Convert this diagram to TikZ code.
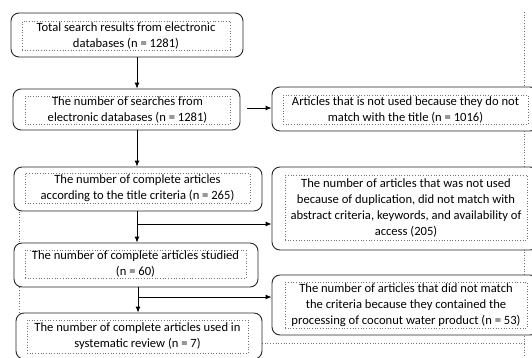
\documentclass[tikz,border=0pt]{standalone}
\usepackage{fontspec}
\setmainfont{Carlito}
\usetikzlibrary{arrows.meta}
\begin{document}
\begin{tikzpicture}[x=1pt,y=-1pt,
  outerbox/.style={draw=black!85, line width=0.9pt, rounded corners=8pt, fill=white, inner sep=0pt},
  innerbox/.style={draw=black!55, dotted, line width=0.7pt, inner sep=0pt, align=center,
     font=\fontsize{12.6}{16}\selectfont},
  frameline/.style={draw=black!55, dotted, line width=0.7pt},
  arr/.style={-{Latex[length=6pt,width=5pt]}, line width=0.9pt, draw=black}]
\useasboundingbox (0,0) rectangle (532,357);
\clip (0,0) rectangle (532,357);
% dotted frame lines
\coordinate (fl1) at (19,190);
\coordinate (fl2) at (19,360);
\coordinate (fr1) at (524,12);
\coordinate (fr2) at (524,360);
\coordinate (fb1) at (262,343);
\coordinate (fb2) at (524,343);
\draw[frameline] (fl1) -- (fl2);
\draw[frameline] (fr1) -- (fr2);
\draw[frameline] (fb1) -- (fb2);
% outer boxes
\node[outerbox, minimum width=232pt, minimum height=44pt] (b1) at (127,35) {};
\node[outerbox, minimum width=227pt, minimum height=41pt] (b2) at (126.5,109.5) {};
\node[outerbox, minimum width=248pt, minimum height=44pt] (b3) at (138,189) {};
\node[outerbox, minimum width=244pt, minimum height=44pt] (b4) at (136,265) {};
\node[outerbox, minimum width=246pt, minimum height=46pt] (b5) at (139,336) {};
\node[outerbox, minimum width=266pt, minimum height=44pt] (r1) at (405,109) {};
\node[outerbox, minimum width=266pt, minimum height=83pt] (r2) at (405,208.5) {};
\node[outerbox, minimum width=266pt, minimum height=60pt] (r3) at (405,305) {};
% inner dotted text boxes
\node[innerbox, minimum width=208pt, minimum height=29pt] (t1) at (126,35.5)
  {Total search results from electronic\\databases (n = 1281)};
\node[innerbox, minimum width=205pt, minimum height=28pt] (t2) at (127.5,110)
  {The number of searches from\\electronic databases (n = 1281)};
\node[innerbox, minimum width=225pt, minimum height=30pt] (t3) at (137.5,188)
  {The number of complete articles\\according to the title criteria (n = 265)};
\node[innerbox, minimum width=221pt, minimum height=28pt] (t4) at (135.5,264)
  {The number of complete articles studied\\(n = 60)};
\node[innerbox, minimum width=221pt, minimum height=33pt] (t5) at (137.5,336.5)
  {The number of complete articles used in\\systematic review (n = 7)};
\node[innerbox, minimum width=245pt, minimum height=29pt] (s1) at (405.5,109.5)
  {Articles that is not used because they do not\\match with the title (n = 1016)};
\node[innerbox, minimum width=242pt, minimum height=65pt] (s2) at (406,207.5)
  {The number of articles that was not used\\because of duplication, did not match with\\abstract criteria, keywords, and availability of\\access (205)};
\node[innerbox, minimum width=242pt, minimum height=46pt] (s3) at (406,305)
  {The number of articles that did not match\\the criteria because they contained the\\processing of coconut water product (n = 53)};
% connectors
\coordinate (j1) at (137,224);
\coordinate (j2) at (138,297);
\draw[arr] (b1.south -| 137,0) -- (b2.north -| 137,0);
\draw[arr] ([xshift=7pt]b2.east |- 0,108) -- (r1.west |- 0,108);
\draw[arr] (b2.south -| 137,0) -- (b3.north -| 137,0);
\draw[arr] (b3.south -| j1) -- (b4.north -| j1);
\draw[arr] (j1) -- (j1 -| r2.west);
\draw[arr] (b4.south -| j2) -- (b5.north -| j2);
\draw[arr] (j2) -- (j2 -| r3.west);
\end{tikzpicture}
\end{document}
